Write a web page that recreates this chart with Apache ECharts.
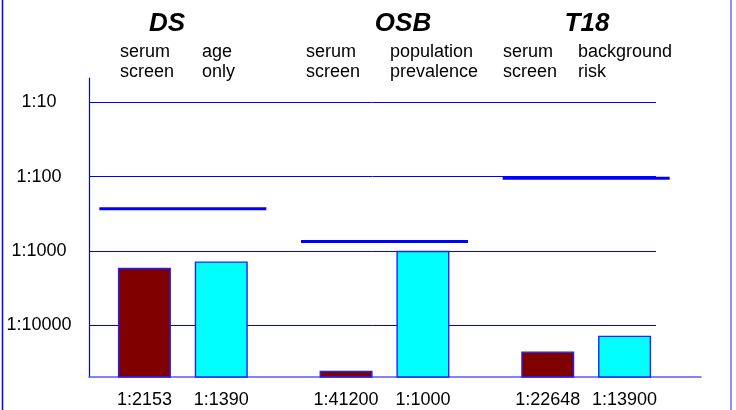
<!DOCTYPE html>
<html><head><meta charset="utf-8">
<script src="https://cdn.jsdelivr.net/npm/echarts@6/dist/echarts.min.js"></script>
<style>html,body{margin:0;padding:0;background:#fff}#c{width:736px;height:410px}</style>
</head><body><div id="c"></div>
<script>
// ---------------- data ----------------
const groups = ['DS', 'OSB', 'T18'];
const serumSubLabels = ['serum\nscreen', 'serum\nscreen', 'serum\nscreen'];
const compareSubLabels = ['age\nonly', 'population\nprevalence', 'background\nrisk'];
// risks as "1 in N" (bar heights as drawn)
const serumRisk = [1690, 41200, 22648];
const compareRisk = [1390, 1000, 13900];
// printed risk labels under the bars
const serumRiskText = ['1:2153', '1:41200', '1:22648'];
const compareRiskText = ['1:1390', '1:1000', '1:13900'];
// screening cut-off risks (thick blue lines)
const cutoffRisk = [270, 750, 105];
// y-axis ticks (1 in N) and visible range (bottom, top)
const yTickRisk = [10, 100, 1000, 10000];
const yRangeRisk = [50000, 4.7];

// ---------------- helpers ----------------
const REF = 100000;                       // decade reference (axis value 0)
const toV = d => Math.log10(REF / d);
const YMIN = toV(yRangeRisk[0]);
const YMAX = toV(yRangeRisk[1]);
const FONT = '"Liberation Sans", Arial, sans-serif';
const BLUE = '#0000ff';

// plot geometry
const TOP = 78, PLOT_H = 299;
const PX_PER_DECADE = PLOT_H / (YMAX - YMIN);
const GRID_A_H = PX_PER_DECADE * YMAX;    // gridline grid starts at decade 0

const chart = echarts.init(document.getElementById('c'), null, {renderer: 'canvas'});

const option = {
  animation: false,
  backgroundColor: '#ffffff',
  grid: [
    {left: 89, top: TOP, width: 567, height: GRID_A_H},  // gridlines + y labels
    {left: 82, top: TOP, width: 605, height: PLOT_H},    // bars
    {left: 89, top: TOP, width: 612, height: PLOT_H}     // axis lines
  ],
  xAxis: [
    {gridIndex: 0, type: 'value', show: false},
    {gridIndex: 1, type: 'category', data: groups, show: false},
    {gridIndex: 2, type: 'value', min: 0, max: 1,
      axisLine: {show: true, lineStyle: {color: '#5a5aff', width: 1.5}},
      axisTick: {show: false}, axisLabel: {show: false}, splitLine: {show: false}}
  ],
  yAxis: [
    {gridIndex: 0, type: 'value', min: 0, max: YMAX, interval: 1,
      axisLine: {show: false},
      axisTick: {show: false},
      splitLine: {show: true, showMinLine: false, showMaxLine: false, lineStyle: {color: BLUE, width: 1}},
      axisLabel: {
        show: true, align: 'center', margin: 50, color: '#000',
        fontSize: 18, fontFamily: FONT, padding: [4, 0, 0, 0],
        showMinLabel: false, showMaxLabel: false,
        formatter: function (val) {
          const d = REF / Math.pow(10, val);
          const t = yTickRisk.find(r => Math.abs(r - d) / r < 1e-6);
          return t ? '1:' + t : '';
        }
      }
    },
    {gridIndex: 1, type: 'value', min: YMIN, max: YMAX, show: false},
    {gridIndex: 2, type: 'value', min: YMIN, max: YMAX,
      axisLine: {show: true, lineStyle: {color: BLUE, width: 1.2}},
      axisTick: {show: false}, axisLabel: {show: false}, splitLine: {show: false}}
  ],
  series: [
    {
      name: 'serum screen', type: 'bar', xAxisIndex: 1, yAxisIndex: 1,
      data: serumRisk.map(toV), barWidth: 53, barGap: '45%', clip: true,
      itemStyle: {color: '#800000', borderColor: '#2020ff', borderWidth: 1.4},
      label: {show: true, position: 'bottom', distance: 13, color: '#000', fontSize: 18, fontFamily: FONT,
        formatter: p => serumRiskText[p.dataIndex]}
    },
    {
      name: 'comparison', type: 'bar', xAxisIndex: 1, yAxisIndex: 1,
      data: compareRisk.map(toV), barWidth: 53, barGap: '45%', clip: true,
      itemStyle: {color: '#00ffff', borderColor: '#2020ff', borderWidth: 1.4},
      label: {show: true, position: 'bottom', distance: 13, color: '#000', fontSize: 18, fontFamily: FONT,
        formatter: p => compareRiskText[p.dataIndex]}
    },
    {
      name: 'cut-off', type: 'custom', xAxisIndex: 1, yAxisIndex: 1,
      data: cutoffRisk.map((d, i) => [i, toV(d)]),
      encode: {x: 0, y: 1}, clip: false, z: 5,
      renderItem: function (params, api) {
        const p = api.coord([api.value(0), api.value(1)]);
        const band = api.size([1, 0])[0];
        const half = band * 0.414;
        return {type: 'line', shape: {x1: p[0] - half, y1: p[1], x2: p[0] + half, y2: p[1]},
          style: {stroke: BLUE, lineWidth: 3}};
      }
    }
  ],
  graphic: [
    {type: 'line', shape: {x1: 2.5, y1: 0, x2: 2.5, y2: 410}, style: {stroke: BLUE, lineWidth: 1.5}},
    {type: 'line', shape: {x1: 731, y1: 0, x2: 731, y2: 410}, style: {stroke: '#6a6aff', lineWidth: 1.5}},
    // group titles
    {type: 'text', x: 167, y: 24, style: {text: groups[0], font: 'italic bold 26px ' + FONT, fill: '#000', align: 'center', verticalAlign: 'middle'}},
    {type: 'text', x: 403, y: 24, style: {text: groups[1], font: 'italic bold 26px ' + FONT, fill: '#000', align: 'center', verticalAlign: 'middle'}},
    {type: 'text', x: 587, y: 24, style: {text: groups[2], font: 'italic bold 26px ' + FONT, fill: '#000', align: 'center', verticalAlign: 'middle'}},
    // sub labels
    {type: 'text', x: 120, y: 62, style: {text: serumSubLabels[0], font: '18px ' + FONT, fill: '#000', align: 'left', verticalAlign: 'middle', lineHeight: 20}},
    {type: 'text', x: 202, y: 62, style: {text: compareSubLabels[0], font: '18px ' + FONT, fill: '#000', align: 'left', verticalAlign: 'middle', lineHeight: 20}},
    {type: 'text', x: 306, y: 62, style: {text: serumSubLabels[1], font: '18px ' + FONT, fill: '#000', align: 'left', verticalAlign: 'middle', lineHeight: 20}},
    {type: 'text', x: 390, y: 62, style: {text: compareSubLabels[1], font: '18px ' + FONT, fill: '#000', align: 'left', verticalAlign: 'middle', lineHeight: 20}},
    {type: 'text', x: 503, y: 62, style: {text: serumSubLabels[2], font: '18px ' + FONT, fill: '#000', align: 'left', verticalAlign: 'middle', lineHeight: 20}},
    {type: 'text', x: 578, y: 62, style: {text: compareSubLabels[2], font: '18px ' + FONT, fill: '#000', align: 'left', verticalAlign: 'middle', lineHeight: 20}}
  ]
};
chart.setOption(option);
</script>
</body></html>
